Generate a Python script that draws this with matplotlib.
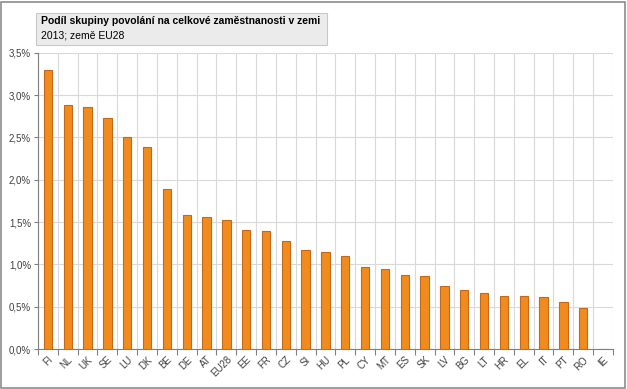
import matplotlib.pyplot as plt
from matplotlib.patches import Rectangle
from matplotlib.ticker import FuncFormatter, FixedLocator
import numpy as np

countries = ["FI", "NL", "UK", "SE", "LU", "DK", "BE", "DE", "AT", "EU28",
             "EE", "FR", "CZ", "SI", "HU", "PL", "CY", "MT", "ES", "SK",
             "LV", "BG", "LT", "HR", "EL", "IT", "PT", "RO", "IE"]
shares = [3.29, 2.88, 2.86, 2.73, 2.50, 2.39, 1.89, 1.58, 1.565, 1.52,
          1.41, 1.395, 1.27, 1.175, 1.15, 1.10, 0.963, 0.95, 0.87, 0.857,
          0.743, 0.692, 0.656, 0.63, 0.63, 0.617, 0.56, 0.49, 0.0]
yticks = [0, 0.5, 1.0, 1.5, 2.0, 2.5, 3.0, 3.5]

plt.rcParams["font.family"] = ["Liberation Sans", "DejaVu Sans"]

fig = plt.figure(figsize=(6.27, 3.89), dpi=100)
ax = fig.add_axes([0.0606, 0.1028, 0.917, 0.7617])

x = np.arange(len(countries))
ax.bar(x, shares, width=0.42, color="#F28B1D", edgecolor="#C4681B", linewidth=0.8, zorder=3)

ax.set_xlim(-0.5, len(countries) - 0.5)
ax.set_ylim(0, 3.5)
ax.set_yticks(yticks)
ax.yaxis.set_major_formatter(FuncFormatter(lambda v, p: f"{v:.1f}%".replace(".", ",")))
ax.set_xticks(x)
ax.set_xticklabels(countries, rotation=45, ha="right", rotation_mode="anchor", fontsize=7, color="#404040")
ax.tick_params(axis="x", which="major", length=0, pad=4)
ax.xaxis.set_minor_locator(FixedLocator(np.arange(-0.5, len(countries), 1.0)))
ax.tick_params(axis="x", which="minor", length=4, color="#808080", width=0.8)
ax.tick_params(axis="y", length=3, color="#808080", labelsize=7, labelcolor="#404040", pad=2)

ax.grid(True, axis="y", color="#D9D9D9", linewidth=0.8, zorder=0)
ax.grid(True, axis="x", which="minor", color="#D9D9D9", linewidth=0.8, zorder=0)
for s in ["top", "right"]:
    ax.spines[s].set_visible(False)
for s in ["left", "bottom"]:
    ax.spines[s].set_color("#808080")
    ax.spines[s].set_linewidth(0.8)

# title box
fig.patches.append(Rectangle((36 / 627, 1 - 45 / 389), 291 / 627, 32 / 389,
                             transform=fig.transFigure, facecolor="#EBEBEB",
                             edgecolor="#C8C8C8", linewidth=0.8))
fig.text(41 / 627, 1 - 21 / 389, "Podíl skupiny povolání na celkové zaměstnanosti v zemi",
         fontsize=7.5, fontweight="bold", va="center", ha="left", color="#000000")
fig.text(41 / 627, 1 - 36 / 389, "2013; země EU28", fontsize=7.5, va="center", ha="left", color="#000000")

# outer frame
fig.patches.append(Rectangle((0.002, 0.003), 0.995, 0.993, transform=fig.transFigure,
                             facecolor="none", edgecolor="#8C8C8C", linewidth=1.2))

fig.savefig("out.png", dpi=100)
